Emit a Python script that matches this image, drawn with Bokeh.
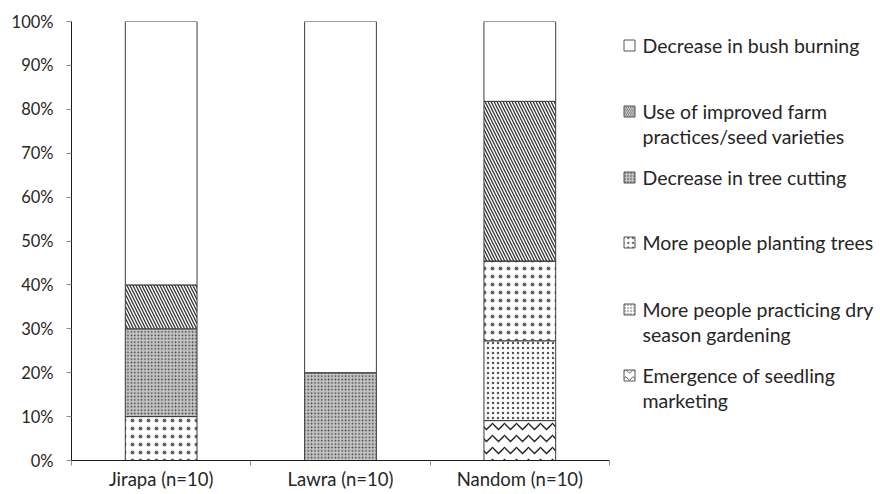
from bokeh.plotting import figure
from bokeh.layouts import row
from bokeh.models import Range1d, FixedTicker, PrintfTickFormatter
from bokeh.embed import file_html
from bokeh.resources import INLINE
from bokeh.core.properties import value

# Districts surveyed
categories = ["Jirapa (n=10)", "Lawra (n=10)", "Nandom (n=10)"]

# Share of responses per observed change (%), stacked bottom to top
seedling_marketing = [0, 0, 9.09]
dry_season_gardening = [0, 0, 18.18]
planting_trees = [10, 0, 18.18]
tree_cutting = [20, 20, 0]
improved_practices = [10, 0, 36.36]
bush_burning = [60, 80, 18.18]

series_names = [
    "Emergence of seedling\nmarketing",
    "More people practicing dry\nseason gardening",
    "More people planting trees",
    "Decrease in tree cutting",
    "Use of improved farm\npractices/seed varieties",
    "Decrease in bush burning",
]

y_ticks = [0, 10, 20, 30, 40, 50, 60, 70, 80, 90, 100]

FONT = "Lato"
TEXT = "#262626"

# page geometry of the plotting frame
FRAME_LEFT, FRAME_RIGHT = 71, 609
FRAME_TOP, FRAME_BOTTOM = 21, 460

# fill styles for each stacked series (bottom to top)
styles = [
    dict(fill_color="white", hatch_pattern="horizontal_wave", hatch_scale=12, hatch_weight=1.3, hatch_color="#222222"),
    dict(fill_color="white", hatch_pattern="dot", hatch_scale=5, hatch_weight=0.3, hatch_color="#555555"),
    dict(fill_color="white", hatch_pattern="dot", hatch_scale=8, hatch_weight=0.3, hatch_color="#666666"),
    dict(fill_color="#c4c4c4", hatch_pattern="dot", hatch_scale=3.4, hatch_weight=1.2, hatch_color="#3a3a3a"),
    dict(fill_color="white", hatch_pattern="left_diagonal_line", hatch_scale=6, hatch_weight=1.3, hatch_color="#333333"),
    dict(fill_color="white", hatch_pattern=None),
]

stack_vals = [seedling_marketing, dry_season_gardening, planting_trees,
              tree_cutting, improved_practices, bush_burning]

xs = [i + 0.5 for i in range(len(categories))]


def fill_kwargs(st, icon=False):
    kw = {k: v for k, v in st.items() if v is not None}
    if icon and "hatch_scale" in kw:
        kw["hatch_scale"] = max(3.0, kw["hatch_scale"] * 0.6)
        kw["hatch_weight"] = 0.8
    return kw


p = figure(
    frame_width=FRAME_RIGHT - FRAME_LEFT, frame_height=FRAME_BOTTOM - FRAME_TOP,
    min_border_left=FRAME_LEFT, min_border_top=FRAME_TOP, min_border_bottom=34, min_border_right=2,
    x_range=Range1d(0, len(categories)), y_range=Range1d(0, 100),
    output_backend="svg", toolbar_location=None,
)
p.outline_line_color = None
p.xgrid.visible = False
p.ygrid.visible = False

bottoms = [0.0] * len(categories)
for v, st in zip(stack_vals, styles):
    tops = [b + val for b, val in zip(bottoms, v)]
    p.vbar(x=xs, bottom=bottoms, top=tops, width=0.4,
           line_color="#3a3a3a", line_width=1, **fill_kwargs(st))
    bottoms = tops

# y axis
p.yaxis.ticker = FixedTicker(ticks=y_ticks)
p.yaxis.formatter = PrintfTickFormatter(format="%d%%")
p.yaxis.axis_line_color = "#1a1a1a"
p.yaxis.major_tick_out = 5
p.yaxis.major_tick_in = 0
p.yaxis.major_tick_line_color = "#8c8c8c"
p.yaxis.minor_tick_line_color = None
p.yaxis.major_label_standoff = 13
p.yaxis.major_label_text_font = FONT
p.yaxis.major_label_text_font_size = "16.5px"
p.yaxis.major_label_text_color = TEXT

# x axis: labels centred on bars, ticks on category boundaries
p.xaxis.ticker = FixedTicker(ticks=xs, minor_ticks=list(range(len(categories) + 1)))
p.xaxis.major_label_overrides = {x: c for x, c in zip(xs, categories)}
p.xaxis.axis_line_color = "#1a1a1a"
p.xaxis.major_tick_line_color = None
p.xaxis.major_tick_out = 0
p.xaxis.major_tick_in = 0
p.xaxis.minor_tick_out = 5
p.xaxis.minor_tick_in = 0
p.xaxis.minor_tick_line_color = "#8c8c8c"
p.xaxis.major_label_standoff = 2
p.xaxis.major_label_text_font = FONT
p.xaxis.major_label_text_font_size = "18.5px"
p.xaxis.major_label_text_color = TEXT

# legend panel; its frame lines up with the chart frame, so map page pixels onto it
leg = figure(
    width=880 - FRAME_RIGHT - 2, height=494,
    x_range=Range1d(FRAME_RIGHT + 2, 880), y_range=Range1d(FRAME_BOTTOM, FRAME_TOP),
    output_backend="svg", toolbar_location=None,
    min_border=0,
)
leg.axis.visible = False
leg.grid.visible = False
leg.outline_line_color = None

item_y = [375, 309, 242, 177, 111, 45]
icon_x = 629
text_x = 642
line_gap = 25
for name, st, y0 in zip(series_names, styles, item_y):
    leg.rect(x=[icon_x], y=[y0], width=11, height=11, width_units="screen", height_units="screen",
             line_color="#555555", line_width=1, **fill_kwargs(st, icon=True))
    lines = name.split("\n")
    leg.text(x=[text_x] * len(lines), y=[y0 + i * line_gap for i in range(len(lines))],
             text=lines, text_font=value(FONT), text_font_size="19.5px",
             text_color=TEXT, text_baseline="middle", text_align="left")

layout = row(p, leg, spacing=0)
open("out.html", "w").write(file_html(layout, INLINE))
